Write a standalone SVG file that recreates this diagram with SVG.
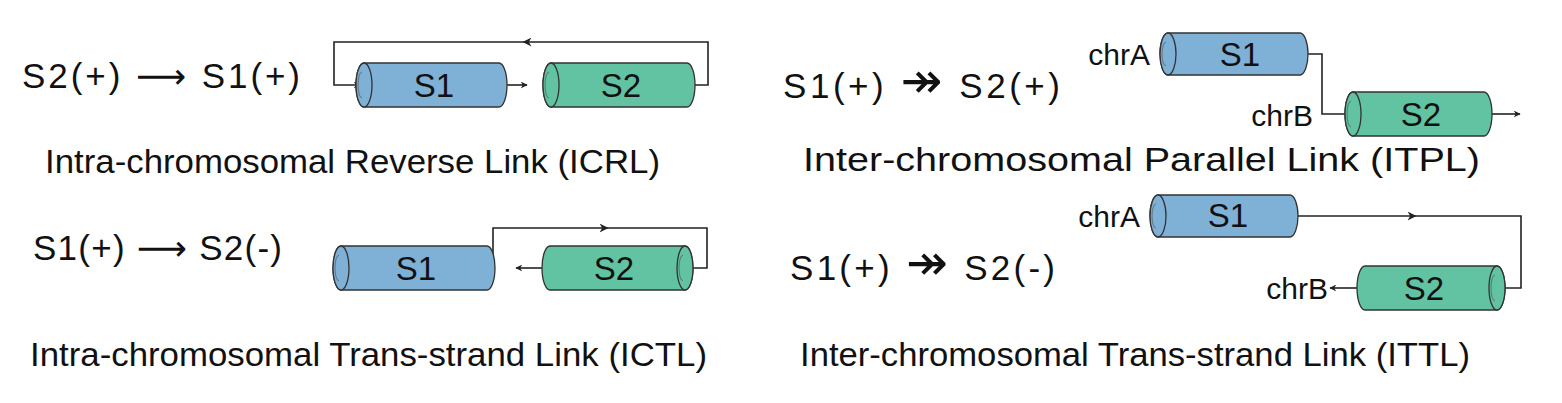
<svg xmlns="http://www.w3.org/2000/svg" width="1562" height="403" viewBox="0 0 1562 403">
<defs>
<style>
.t{font-family:"Liberation Sans","DejaVu Sans",sans-serif;fill:#111}
.big{font-size:35px}
.ar{font-size:35px;font-family:"DejaVu Sans",sans-serif}
.ar2{font-size:50px;font-family:"DejaVu Sans",sans-serif}
.lab{font-size:33px}
.cl{font-size:33px;text-anchor:middle}
.ch{font-size:30px;text-anchor:end}
.b{fill:#7fb0d6;stroke:#333;stroke-width:1.3}
.g{fill:#62c3a2;stroke:#333;stroke-width:1.3}
.d{fill:none;stroke:#555;stroke-width:0.7}
.ln{fill:none;stroke:#222;stroke-width:1.6}
</style>
<marker id="a" viewBox="0 0 10 10" refX="9" refY="5" markerWidth="7" markerHeight="7" orient="auto-start-reverse" markerUnits="userSpaceOnUse"><path d="M0,0 L10,5 L0,10 L3,5 Z" fill="#222"/></marker>
<marker id="m" viewBox="0 0 10 10" refX="5" refY="5" markerWidth="9" markerHeight="9" orient="auto" markerUnits="userSpaceOnUse"><path d="M0,0 L10,5 L0,10 L3,5 Z" fill="#222"/></marker>
</defs>
<rect width="1562" height="403" fill="#fff"/>

<g id="connectors">
<path class="ln" d="M695,85 H708 V42 H527" marker-end="url(#m)"/>
<path class="ln" d="M527,42 H334 V85 H360" marker-end="url(#a)"/>
<path class="ln" d="M507,85 H527" marker-end="url(#a)"/>
<path class="ln" d="M495,268 H493 V228 H604" marker-end="url(#m)"/>
<path class="ln" d="M604,228 H707 V268 H685" marker-end="url(#a)"/>
<path class="ln" d="M542,268 H516" marker-end="url(#a)"/>
<path class="ln" d="M1308,54 H1322 V114 H1352" marker-end="url(#a)"/>
<path class="ln" d="M1492,114 H1520" marker-end="url(#a)"/>
<path class="ln" d="M1298,216 H1412" marker-end="url(#m)"/>
<path class="ln" d="M1412,216 H1521 V288 H1500" marker-end="url(#a)"/>
<path class="ln" d="M1357,288 H1330" marker-end="url(#a)"/>
</g>

<g id="icrl">
<text class="t big" x="22" y="88" textLength="278" lengthAdjust="spacing">S2(+) <tspan class="ar">⟶</tspan> S1(+)</text>
<g id="icrl-s1"><path class="b" d="M364,63 H499 A8,22 0 0 1 499,107 H364 A8,22 0 0 1 364,63 Z"/><ellipse class="b" cx="364" cy="85" rx="8" ry="22"/><path class="d" d="M362,72 A4,13 0 0 0 362,98"/><text class="t cl" x="434" y="97">S1</text></g>
<g id="icrl-s2"><path class="g" d="M551,63 H687 A8,22 0 0 1 687,107 H551 A8,22 0 0 1 551,63 Z"/><ellipse class="g" cx="551" cy="85" rx="8" ry="22"/><path class="d" d="M549,72 A4,13 0 0 0 549,98"/><text class="t cl" x="621" y="97">S2</text></g>
<text class="t lab" x="45" y="173" textLength="615" lengthAdjust="spacingAndGlyphs">Intra-chromosomal Reverse Link (ICRL)</text>
</g>

<g id="ictl">
<text class="t big" x="33" y="260" textLength="249" lengthAdjust="spacing">S1(+) <tspan class="ar">⟶</tspan> S2(-)</text>
<g id="ictl-s1"><path class="b" d="M341,246 H487 A8,22 0 0 1 487,290 H341 A8,22 0 0 1 341,246 Z"/><ellipse class="b" cx="341" cy="268" rx="8" ry="22"/><path class="d" d="M339,255 A4,13 0 0 0 339,281"/><text class="t cl" x="416" y="280">S1</text></g>
<g id="ictl-s2"><path class="g" d="M550,246 H685 A8,22 0 0 1 685,290 H550 A8,22 0 0 1 550,246 Z"/><ellipse class="g" cx="685" cy="268" rx="8" ry="22"/><path class="d" d="M683,255 A4,13 0 0 0 683,281"/><text class="t cl" x="614" y="280">S2</text></g>
<text class="t lab" x="30" y="366" textLength="677" lengthAdjust="spacingAndGlyphs">Intra-chromosomal Trans-strand Link (ICTL)</text>
</g>

<g id="itpl">
<text class="t big" x="783" y="98" textLength="277" lengthAdjust="spacing">S1(+) <tspan class="ar2">↠</tspan> S2(+)</text>
<text class="t ch" x="1150" y="65">chrA</text>
<text class="t ch" x="1313" y="126">chrB</text>
<g id="itpl-s1"><path class="b" d="M1168,33 H1300 A8,21 0 0 1 1300,75 H1168 A8,21 0 0 1 1168,33 Z"/><ellipse class="b" cx="1168" cy="54" rx="8" ry="21"/><path class="d" d="M1166,42 A4,12 0 0 0 1166,66"/><text class="t cl" x="1240" y="66">S1</text></g>
<g id="itpl-s2"><path class="g" d="M1353,92 H1484 A8,22 0 0 1 1484,136 H1353 A8,22 0 0 1 1353,92 Z"/><ellipse class="g" cx="1353" cy="114" rx="8" ry="22"/><path class="d" d="M1351,101 A4,13 0 0 0 1351,127"/><text class="t cl" x="1421" y="126">S2</text></g>
<text class="t lab" x="803" y="171" textLength="677" lengthAdjust="spacingAndGlyphs">Inter-chromosomal Parallel Link (ITPL)</text>
</g>

<g id="ittl">
<text class="t big" x="790" y="280" textLength="265" lengthAdjust="spacing">S1(+) <tspan class="ar2">↠</tspan> S2(-)</text>
<text class="t ch" x="1140" y="227">chrA</text>
<text class="t ch" x="1328" y="299">chrB</text>
<g id="ittl-s1"><path class="b" d="M1158,195 H1290 A8,21 0 0 1 1290,237 H1158 A8,21 0 0 1 1158,195 Z"/><ellipse class="b" cx="1158" cy="216" rx="8" ry="21"/><path class="d" d="M1156,204 A4,12 0 0 0 1156,228"/><text class="t cl" x="1228" y="227">S1</text></g>
<g id="ittl-s2"><path class="g" d="M1365,266 H1497 A8,22 0 0 1 1497,310 H1365 A8,22 0 0 1 1365,266 Z"/><ellipse class="g" cx="1497" cy="288" rx="8" ry="22"/><path class="d" d="M1495,275 A4,13 0 0 0 1495,301"/><text class="t cl" x="1424" y="300">S2</text></g>
<text class="t lab" x="800" y="366" textLength="670" lengthAdjust="spacingAndGlyphs">Inter-chromosomal Trans-strand Link (ITTL)</text>
</g>
</svg>
